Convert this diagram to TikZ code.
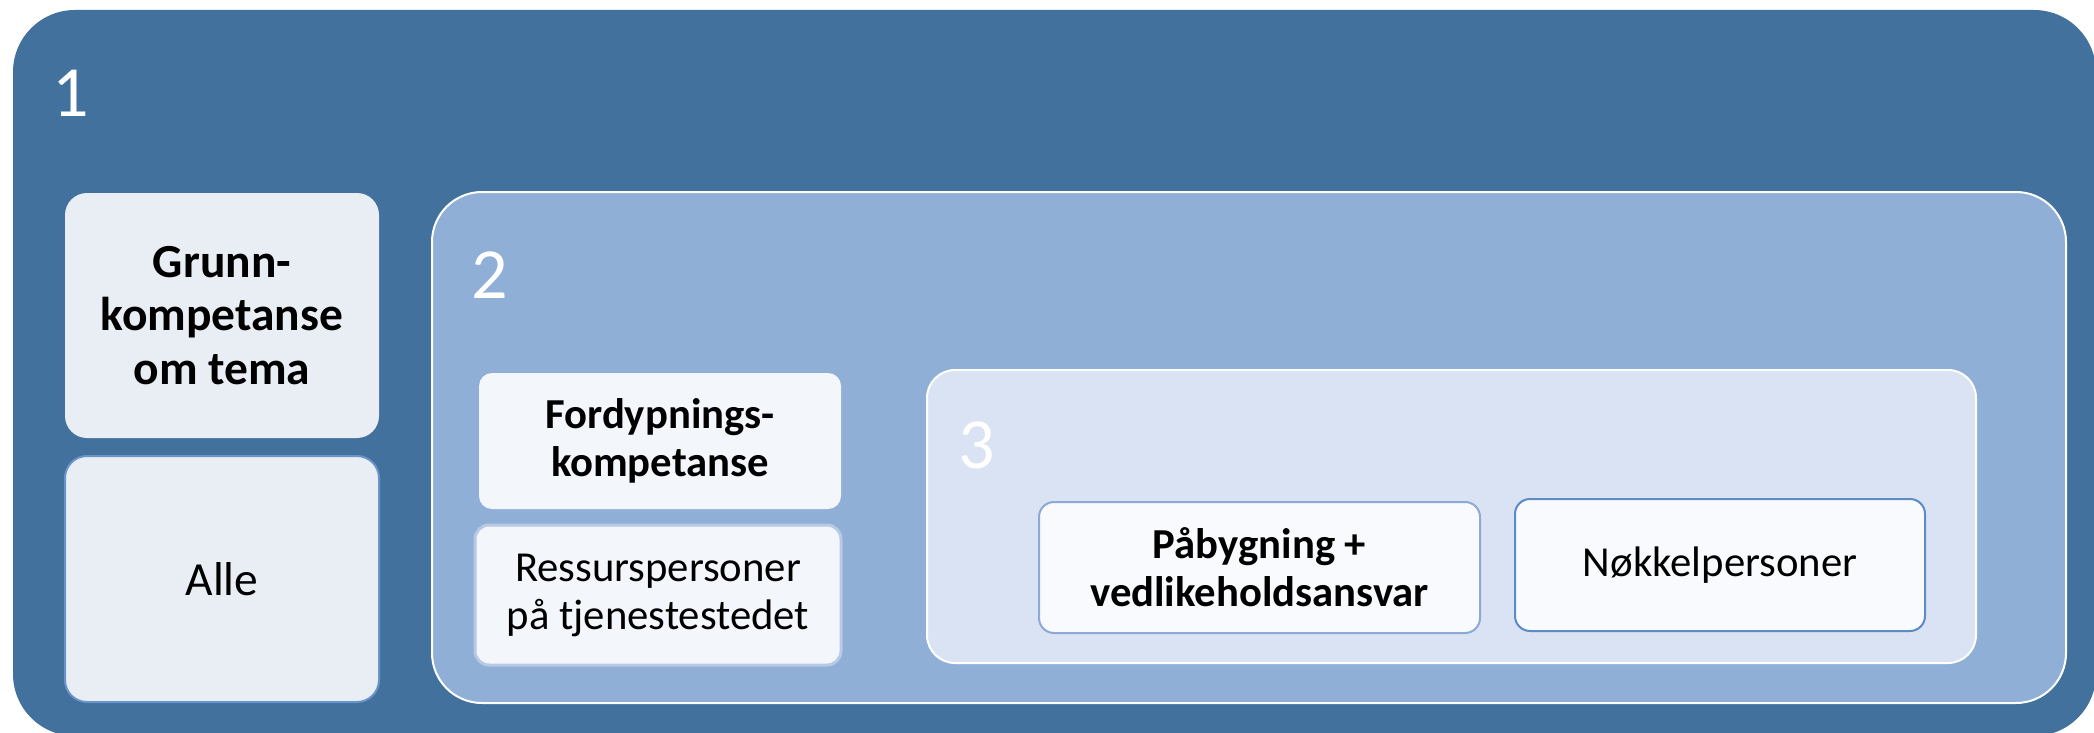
\documentclass[tikz,border=0pt]{standalone}
\usepackage{fontspec}
\setmainfont{Carlito}
\definecolor{lvlone}{HTML}{41719C}
\definecolor{lvltwo}{HTML}{8FAFD6}
\definecolor{lvlthree}{HTML}{DAE3F3}
\definecolor{boxone}{HTML}{E9EEF4}
\definecolor{boxtwo}{HTML}{F3F6FA}
\definecolor{boxthree}{HTML}{F9FAFD}
\definecolor{edgeA}{HTML}{6A93C8}
\definecolor{edgeB}{HTML}{B7C9E4}
\definecolor{edgeC}{HTML}{8DA9D6}
\definecolor{edgeD}{HTML}{5F8BC4}
\tikzset{
  panel/.style={rectangle, inner sep=0pt, outer sep=0pt, align=center},
  bigfont/.style={font=\fontsize{47.5}{53.5}\selectfont},
  midfont/.style={font=\fontsize{42.7}{48}\selectfont},
  numlabel/.style={anchor=base west, inner sep=0pt, text=white, font=\fontsize{72}{84}\selectfont},
}
\begin{document}
\begin{tikzpicture}[x=1pt,y=-1pt]
\useasboundingbox (0,0) rectangle (2094,733);
\clip (0,0) rectangle (2094,733);
% level 1
\node[panel, fill=lvlone, rounded corners=62pt, minimum width=2083pt, minimum height=726pt] (one) at (1054.5,373) {};
\node[numlabel] (n1) at (52,117) {1};
% level 1 boxes
\node[panel, bigfont, fill=boxone, rounded corners=22pt, minimum width=314pt, minimum height=245pt] (grunn) at (222,315.5) {\bfseries Grunn-\\\bfseries kompetanse\\\bfseries om tema};
\node[panel, bigfont, fill=boxone, draw=edgeA, line width=2pt, rounded corners=22pt, minimum width=314pt, minimum height=246pt] (alle) at (222,579) {Alle};
% level 2
\node[panel, fill=lvltwo, draw=white, line width=2pt, rounded corners=50pt, minimum width=1634pt, minimum height=511pt] (two) at (1249,447.5) {};
\node[numlabel] (n2) at (471,298) {2};
\node[panel, midfont, fill=boxtwo, rounded corners=13pt, minimum width=362pt, minimum height=136pt] (fordyp) at (660,441) {\bfseries Fordypnings-\\\bfseries kompetanse};
\node[panel, midfont, fill=boxtwo, draw=edgeB, line width=3pt, rounded corners=14pt, minimum width=366pt, minimum height=140pt] (ressurs) at (658,595) {Ressurspersoner\\på tjenestestedet};
% level 3
\node[panel, fill=lvlthree, draw=white, line width=2pt, rounded corners=28pt, minimum width=1049pt, minimum height=293pt] (three) at (1451.5,516.5) {};
\node[numlabel] (n3) at (958,468) {3};
\node[panel, midfont, fill=boxthree, draw=edgeC, line width=2pt, rounded corners=15pt, minimum width=441pt, minimum height=131pt] (paa) at (1259.5,567.5) {\bfseries Påbygning +\\\bfseries vedlikeholdsansvar};
\node[panel, midfont, fill=boxthree, draw=edgeD, line width=2pt, rounded corners=15pt, minimum width=410pt, minimum height=132pt] (nokkel) at (1720,565) {Nøkkelpersoner};
\end{tikzpicture}
\end{document}
